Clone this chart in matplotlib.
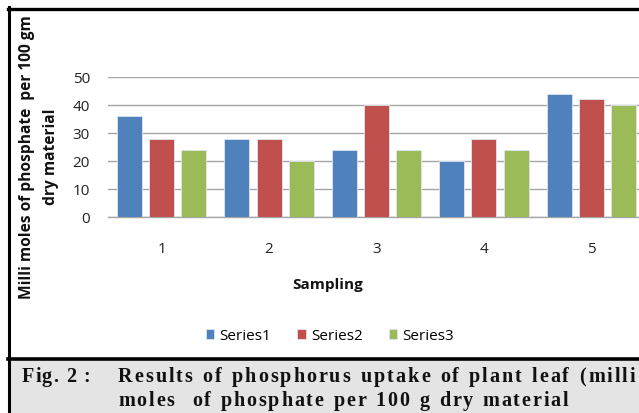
import matplotlib
matplotlib.use("Agg")
import matplotlib.pyplot as plt
import numpy as np
from matplotlib.patches import Rectangle
from matplotlib.lines import Line2D

# data
samplings = ["1", "2", "3", "4", "5"]
series1 = [36, 28, 24, 20, 44]
series2 = [28, 28, 40, 28, 42]
series3 = [24, 20, 24, 24, 40]
series_names = ["Series1", "Series2", "Series3"]
colors = ["#4F81BD", "#C0504D", "#9BBB59"]
yticks = [0, 10, 20, 30, 40, 50]

W, H = 639, 414
fig = plt.figure(figsize=(W / 100, H / 100), dpi=100)

def fx(px):
    return px / W

def fy(py):
    return 1 - py / H

# caption box and frame
fig.patches.append(Rectangle((fx(9), fy(414)), 1, fy(361) - fy(414), transform=fig.transFigure,
                             facecolor="#e4e4e4", edgecolor="none", zorder=-1))
fig.lines.append(Line2D([fx(9), fx(9)], [fy(8), fy(414)], transform=fig.transFigure, color="black", lw=2.2))
fig.lines.append(Line2D([fx(8), 1], [fy(9.5), fy(9.5)], transform=fig.transFigure, color="black", lw=2.4))
fig.lines.append(Line2D([fx(8), 1], [fy(359.5), fy(359.5)], transform=fig.transFigure, color="black", lw=2.6))

ax = fig.add_axes([fx(108), fy(218), fx(645) - fx(108), fy(78) - fy(218)])
x = np.arange(1, len(samplings) + 1)
bw = 0.233
step = 0.30
for i, vals in enumerate([series1, series2, series3]):
    ax.bar(x + (i - 1) * step, vals, width=bw, color=colors[i], edgecolor="#dfe6ee",
           linewidth=0.6, label=series_names[i], zorder=3)

ax.set_xlim(0.5, 5.5)
ax.set_ylim(0, 50)
ax.set_yticks(yticks)
ax.set_xticks(x)
ax.set_xticklabels(samplings)
ax.yaxis.grid(True, color="#a6a6a6", lw=1.0, zorder=0)
for s in ["top", "right", "left"]:
    ax.spines[s].set_visible(False)
ax.spines["bottom"].set_color("#a6a6a6")
ax.spines["bottom"].set_linewidth(1.0)
ax.set_facecolor("none")
ax.tick_params(axis="both", length=0, labelsize=11, colors="#222222", labelfontfamily="Open Sans")
ax.tick_params(axis="x", pad=17)
ax.tick_params(axis="y", pad=13)

fig.text(fx(27), fy(157), "Milli moles of phosphate  per 100 gm", rotation=90, ha="center", va="center",
         fontsize=11.2, fontweight="bold", family="Open Sans", color="#111111")
fig.text(fx(51), fy(157), "dry material", rotation=90, ha="center", va="center",
         fontsize=11.2, fontweight="bold", family="Open Sans", color="#111111")
fig.text(fx(328), fy(285), "Sampling", ha="center", va="center", fontsize=11,
         fontweight="bold", family="Open Sans", color="#111111")

fig.legend(loc="center", bbox_to_anchor=(fx(330), fy(337)), ncol=3, frameon=False,
           handlelength=0.55, handleheight=0.55, handletextpad=0.35, columnspacing=1.7,
           prop={"family": "Open Sans", "size": 11})

# caption with wide letter spacing
renderer = fig.canvas.get_renderer()
cap_font = dict(family="Liberation Serif", fontweight="bold", fontsize=14.5, color="#111111")

def char_widths(text):
    ws = []
    for ch in text:
        t = fig.text(0, 0, ch if ch != " " else "n", **cap_font)
        w = t.get_window_extent(renderer).width
        t.remove()
        ws.append(w * 0.55 if ch == " " else w)
    return ws

def spaced(text, x0, y0, track):
    xp = x0
    for ch, w in zip(text, char_widths(text)):
        if ch != " ":
            fig.text(fx(xp), fy(y0), ch, ha="left", va="center", **cap_font)
        xp += w + track

line1 = "Results of phosphorus uptake of plant leaf (milli"
line2 = "moles  of phosphate per 100 g dry material"
natural = sum(char_widths(line2))
track = (450 - natural) / (len(line2) - 1)

spaced("Fig. 2 :", 22, 377, track * 0.5)
spaced(line1, 118, 377, track * 1.1)
spaced(line2, 118, 401, track)

fig.savefig("out.png", dpi=100)
